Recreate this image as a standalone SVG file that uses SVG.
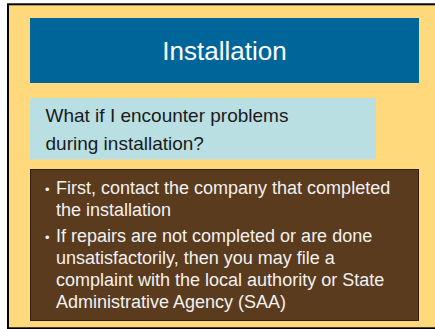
<svg xmlns="http://www.w3.org/2000/svg" width="435" height="329" viewBox="0 0 435 329">
<style>
.t{font-family:"Liberation Sans",Arial,sans-serif}
.title{font-size:26px;fill:#ffffff}
.q{font-size:19px;fill:#1a1a1a}
.b{font-size:18px;fill:#f2f2f2}
.dot{font-size:13px;fill:#f2f2f2}
</style>
<rect x="0" y="0" width="435" height="329" fill="#ffffff"/>
<rect id="frame" x="8" y="4.3" width="440" height="324" fill="#ffd97b" stroke="#000000" stroke-width="2"/>
<g id="title">
<rect x="30" y="18" width="389" height="65" fill="#006699"/>
<text class="t title" x="224.5" y="60" text-anchor="middle">Installation</text>
</g>
<g id="question">
<rect x="30" y="98" width="346" height="61.5" fill="#b9dfe3"/>
<text class="t q" x="45.5" y="122">What if I encounter problems</text>
<text class="t q" x="45.5" y="150">during installation?</text>
</g>
<g id="answer">
<rect x="30.5" y="169.5" width="388" height="151" fill="#5b3b1e" stroke="#2e1e0e" stroke-width="1"/>
<text class="t dot" x="45" y="193.5">•</text>
<text class="t b" x="56" y="194">First, contact the company that completed</text>
<text class="t b" x="56" y="216">the installation</text>
<text class="t dot" x="45" y="241.5">•</text>
<text class="t b" x="56" y="242">If repairs are not completed or are done</text>
<text class="t b" x="56" y="264">unsatisfactorily, then you may file a</text>
<text class="t b" x="56" y="286">complaint with the local authority or State</text>
<text class="t b" x="56" y="308">Administrative Agency (SAA)</text>
</g>
<g id="connectors"/>
</svg>
